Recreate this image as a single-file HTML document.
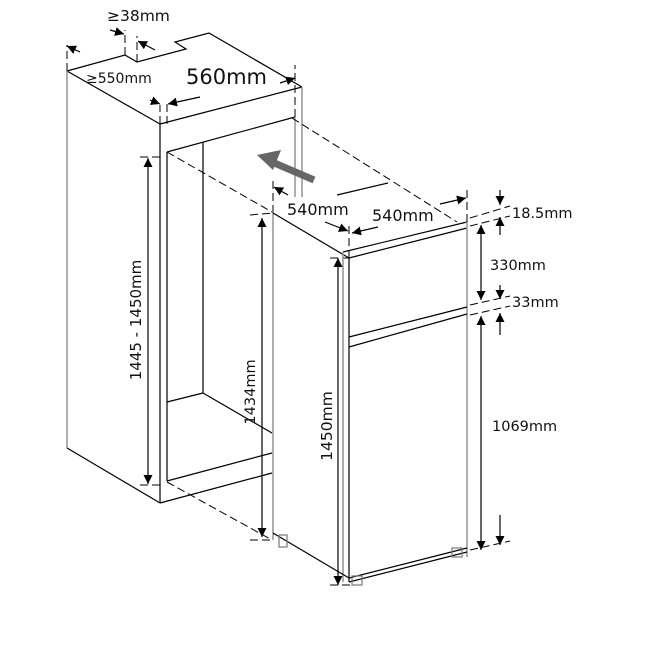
<!DOCTYPE html>
<html><head><meta charset="utf-8"><style>
html,body{margin:0;padding:0;background:#fff}
svg{display:block}
text{font-family:"DejaVu Sans","Liberation Sans",sans-serif;fill:#111}
</style></head><body>
<svg width="647" height="659" viewBox="0 0 647 659" xmlns="http://www.w3.org/2000/svg">
<defs>
<marker id="a" viewBox="0 0 10 10" refX="10" refY="5" markerWidth="9" markerHeight="9" orient="auto-start-reverse" markerUnits="userSpaceOnUse"><path d="M0,0 L10,5 L0,10 z" fill="#000"/></marker>
</defs>
<g fill="none" stroke="#000" stroke-width="1.2">
<polyline points="67,71 125,55 137,62 186,49 175,42 209,33 302,87"/>
<line x1="67" y1="71" x2="160" y2="124"/>
<line x1="160" y1="124" x2="302" y2="87"/>
<line x1="167" y1="152" x2="295" y2="117"/>
<line x1="67" y1="71" x2="67" y2="448" stroke="#999" stroke-width="1.6"/>
<line x1="67" y1="448" x2="160" y2="503"/>
<line x1="160" y1="124" x2="160" y2="503"/>
<line x1="167" y1="152" x2="167" y2="481"/>
<line x1="203" y1="142" x2="203" y2="393"/>
<line x1="302" y1="87" x2="302" y2="197" stroke="#999" stroke-width="1.6"/>
<line x1="295" y1="117" x2="295" y2="197" stroke="#999" stroke-width="1.6"/>
<line x1="167" y1="402" x2="203" y2="393"/>
<line x1="203" y1="393" x2="272" y2="433"/>
<line x1="167" y1="481" x2="272" y2="453"/>
<line x1="160" y1="503" x2="272" y2="473"/>
<g stroke-dasharray="8,4" stroke-width="1">
<line x1="167" y1="152" x2="272" y2="212"/>
<line x1="292" y1="118" x2="457" y2="222"/>
<line x1="167" y1="482" x2="272" y2="540"/>
<line x1="160" y1="124" x2="160" y2="105"/>
<line x1="167" y1="124" x2="167" y2="100"/>
<line x1="67" y1="71" x2="67" y2="45"/>
<line x1="125" y1="55" x2="125" y2="30"/>
<line x1="137" y1="62" x2="137" y2="36"/>
<line x1="295" y1="117" x2="295" y2="65"/>
<line x1="273" y1="213" x2="273" y2="180"/>
<line x1="349" y1="258" x2="349" y2="225"/>
<line x1="467" y1="222" x2="467" y2="190"/>
<line x1="470" y1="218" x2="510" y2="206"/>
<line x1="470" y1="226" x2="510" y2="216"/>
<line x1="470" y1="305" x2="510" y2="296"/>
<line x1="470" y1="315" x2="510" y2="306"/>
<line x1="470" y1="550" x2="510" y2="541"/>
<line x1="250" y1="215" x2="273" y2="213"/>
<line x1="330" y1="258" x2="349" y2="258"/>
<line x1="250" y1="540" x2="272" y2="540"/>
<line x1="330" y1="585" x2="350" y2="585"/>
<line x1="140" y1="157" x2="160" y2="157"/>
<line x1="140" y1="485" x2="160" y2="485"/>
</g>
<line x1="273" y1="213" x2="273" y2="540" stroke="#999" stroke-width="1.6"/>
<line x1="273" y1="213" x2="349" y2="258"/>
<line x1="343" y1="252" x2="467" y2="222"/>
<line x1="349" y1="258" x2="467" y2="228"/>
<line x1="337" y1="195" x2="388" y2="183"/>
<line x1="343" y1="252" x2="343" y2="582" stroke="#999" stroke-width="1.6"/>
<line x1="349" y1="258" x2="349" y2="582"/>
<line x1="467" y1="222" x2="467" y2="557" stroke="#999" stroke-width="1.6"/>
<line x1="273" y1="533" x2="349" y2="578"/>
<line x1="349" y1="578" x2="467" y2="548"/>
<line x1="349" y1="582" x2="467" y2="552"/>
<line x1="349" y1="337" x2="467" y2="307"/>
<line x1="349" y1="347" x2="467" y2="314"/>
<rect x="279" y="535" width="8" height="12" stroke="#777"/>
<rect x="352" y="576" width="10" height="9" stroke="#777"/>
<rect x="452" y="548" width="10" height="9" stroke="#777"/>
<line x1="148" y1="158" x2="148" y2="484" marker-start="url(#a)" marker-end="url(#a)"/>
<line x1="262" y1="218" x2="262" y2="537" marker-start="url(#a)" marker-end="url(#a)"/>
<line x1="338" y1="258" x2="338" y2="585" marker-start="url(#a)" marker-end="url(#a)"/>
<line x1="481" y1="225" x2="481" y2="300" marker-start="url(#a)" marker-end="url(#a)"/>
<line x1="481" y1="316" x2="481" y2="550" marker-start="url(#a)" marker-end="url(#a)"/>
<line x1="500" y1="190" x2="500" y2="205" marker-end="url(#a)"/>
<line x1="500" y1="235" x2="500" y2="217" marker-end="url(#a)"/>
<line x1="500" y1="285" x2="500" y2="299" marker-end="url(#a)"/>
<line x1="500" y1="335" x2="500" y2="313" marker-end="url(#a)"/>
<line x1="500" y1="515" x2="500" y2="545" marker-end="url(#a)"/>
<line x1="80" y1="52" x2="67" y2="46" marker-end="url(#a)"/>
<line x1="150" y1="100" x2="160" y2="104" marker-end="url(#a)"/>
<line x1="110" y1="30" x2="124" y2="34" marker-end="url(#a)"/>
<line x1="155" y1="50" x2="138" y2="41" marker-end="url(#a)"/>
<line x1="280" y1="83" x2="295" y2="78" marker-end="url(#a)"/>
<line x1="200" y1="97" x2="168" y2="104" marker-end="url(#a)"/>
<line x1="288" y1="195" x2="274" y2="187" marker-end="url(#a)"/>
<line x1="325" y1="222" x2="348" y2="231" marker-end="url(#a)"/>
<line x1="378" y1="227" x2="352" y2="233" marker-end="url(#a)"/>
<line x1="440" y1="204" x2="466" y2="198" marker-end="url(#a)"/>
</g>
<line x1="314" y1="180" x2="272" y2="162" stroke="#666" stroke-width="7"/>
<polygon points="257,155 281,150 273,170" fill="#666"/>
<text x="107" y="21" font-size="15.5">≥38mm</text>
<text x="86" y="83" font-size="14">≥550mm</text>
<text x="186" y="84" font-size="21">560mm</text>
<text x="287" y="215" font-size="16">540mm</text>
<text x="372" y="221" font-size="16">540mm</text>
<text x="512" y="218" font-size="14.5">18.5mm</text>
<text x="490" y="270" font-size="14.5">330mm</text>
<text x="512" y="307" font-size="14.5">33mm</text>
<text x="492" y="431" font-size="14.5">1069mm</text>
<text transform="translate(141,320) rotate(-90)" text-anchor="middle" font-size="15">1445 - 1450mm</text>
<text transform="translate(255,392) rotate(-90)" text-anchor="middle" font-size="14.5">1434mm</text>
<text transform="translate(332,426) rotate(-90)" text-anchor="middle" font-size="15.5">1450mm</text>
</svg>
</body></html>
